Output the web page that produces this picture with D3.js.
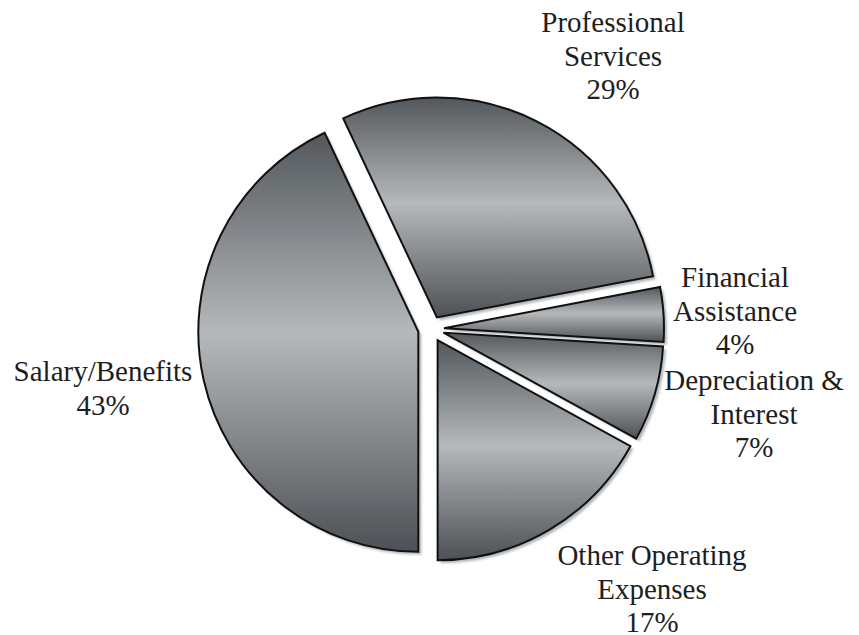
<!DOCTYPE html>
<html>
<head>
<meta charset="utf-8">
<script src="https://cdn.jsdelivr.net/npm/d3@7"></script>
<style>
  html, body { margin: 0; padding: 0; background: #fff; }
  svg { display: block; }
</style>
</head>
<body>
<script>
// data, clockwise from the top
const categories = ["Professional Services", "Financial Assistance", "Depreciation & Interest", "Other Operating Expenses", "Salary/Benefits"];
const values = [29, 4, 7, 17, 43];
const labelLines = [
  ["Professional", "Services", "29%"],
  ["Financial", "Assistance", "4%"],
  ["Depreciation &", "Interest", "7%"],
  ["Other Operating", "Expenses", "17%"],
  ["Salary/Benefits", "43%"]
];

const width = 859, height = 635;
const cx = 431, cy = 329, radius = 220, explode = 13;
// label anchor (first baseline) relative to the pie centre
const labelOffset = [[182, -297], [304, -42], [323, 61], [221, 236], [-328, 52]];
const lineHeight = 33.7;

const svg = d3.select(document.body)
  .append('svg')
  .attr('width', width)
  .attr('height', height);

const defs = svg.append('defs');
const grad = defs.append('linearGradient')
  .attr('id', 'sliceFill')
  .attr('x1', 0).attr('y1', 0).attr('x2', 0).attr('y2', 1);
grad.append('stop').attr('offset', '0%').attr('stop-color', '#52575b');
grad.append('stop').attr('offset', '48%').attr('stop-color', '#b5b9bc');
grad.append('stop').attr('offset', '100%').attr('stop-color', '#4d5155');

defs.append('filter').attr('id', 'soft')
  .append('feGaussianBlur').attr('stdDeviation', 0.9);

const start = -25.2 * Math.PI / 180;
const pie = d3.pie().sort(null).startAngle(start).endAngle(start + 2 * Math.PI);
const arc = d3.arc().innerRadius(0).outerRadius(radius);
const arcs = pie(values);

const g = svg.append('g').attr('transform', `translate(${cx},${cy})`);

function shift(d) {
  const a = (d.startAngle + d.endAngle) / 2;
  return [Math.sin(a) * explode, -Math.cos(a) * explode];
}

// light shadow behind each slice
g.selectAll('path.shadow')
  .data(arcs)
  .join('path')
  .attr('class', 'shadow')
  .attr('d', arc)
  .attr('transform', d => { const [x, y] = shift(d); return `translate(${x + 3},${y + 3})`; })
  .attr('fill', '#b4b8bb')
  .attr('filter', 'url(#soft)');

g.selectAll('path.slice')
  .data(arcs)
  .join('path')
  .attr('class', 'slice')
  .attr('d', arc)
  .attr('transform', d => { const [x, y] = shift(d); return `translate(${x},${y})`; })
  .attr('fill', 'url(#sliceFill)')
  .attr('stroke', '#111')
  .attr('stroke-width', 2)
  .attr('stroke-linejoin', 'miter');

const labels = g.selectAll('text.label')
  .data(arcs)
  .join('text')
  .attr('class', 'label')
  .attr('text-anchor', 'middle')
  .style('font-family', '"Liberation Serif", serif')
  .style('font-size', '29px')
  .attr('fill', '#1e1e1e');

labels.each(function(d, i) {
  const [x, y] = labelOffset[i];
  d3.select(this).selectAll('tspan')
    .data(labelLines[i])
    .join('tspan')
    .attr('x', x)
    .attr('y', (t, k) => y + k * lineHeight)
    .text(t => t);
});
</script>
</body>
</html>
